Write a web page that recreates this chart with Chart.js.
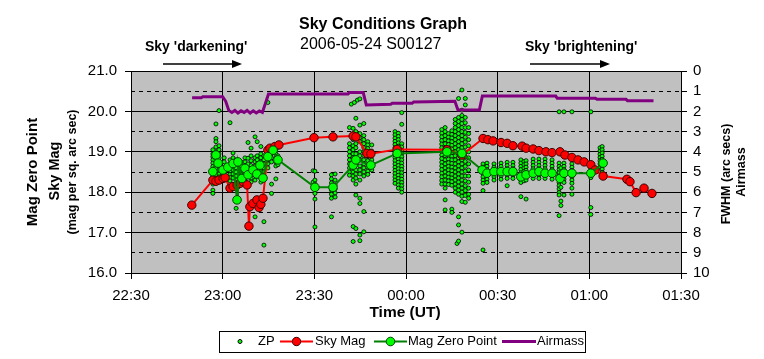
<!DOCTYPE html>
<html><head><meta charset="utf-8">
<script src="https://cdn.jsdelivr.net/npm/chart.js@4/dist/chart.umd.min.js"></script>
<style>html,body{margin:0;padding:0;background:#fff;}#wrap{width:764px;height:359px;position:relative;}</style>
</head><body><div id="wrap"><canvas id="c" width="764" height="359"></canvas></div>
<script>
const FONT = "'Liberation Sans', Arial, sans-serif";

// x values are minutes after 22:30 UT
const xTickLabels = ['22:30','23:00','23:30','00:00','00:30','01:00','01:30'];

const airmassTime  = [20,23,23.5,30,31,32,33,34,35,36,37,38,39,40,41,42,43,44,45,71,71.5,76,77,85,85.5,92,92.5,106,107,114,115,139,139.5,152,152.5,162,162.5,171];
const airmassValue = [1.32,1.32,1.27,1.27,1.5,1.95,2.05,1.95,2.08,1.97,2.05,1.95,2.08,1.97,2.08,1.98,2.05,1.6,1.14,1.14,1.07,1.07,1.68,1.65,1.60,1.60,1.53,1.50,1.93,1.93,1.24,1.24,1.35,1.35,1.40,1.40,1.47,1.47];

const skyMagTime  = [19.9,26.8,27.8,28.8,30.1,30.8,32.4,33.4,34.7,35.7,36.7,38.0,38.6,38.9,39.9,41.2,41.9,42.5,43.2,44.8,45.5,47.1,48.4,59.9,66.1,72.7,73.6,77.2,78.5,87.1,103.4,108.3,115.2,116.8,118.5,121.1,123.1,125.0,128.0,129.3,131.6,133.5,135.8,137.8,140.4,142.0,144.3,146.3,148.3,150.5,151.9,154.5,162.3,163.3,165.3,167.9,170.5];
const skyMagValue = [17.68,18.30,18.27,18.30,18.34,18.36,18.10,18.14,18.18,18.22,18.26,18.18,17.16,17.64,17.72,17.81,17.62,17.70,17.85,19.04,19.09,19.13,19.17,19.35,19.37,19.39,19.37,18.96,18.95,19.06,19.05,18.92,19.33,19.30,19.27,19.23,19.21,19.15,19.14,19.09,19.07,19.03,19.00,18.98,19.00,18.92,18.86,18.80,18.75,18.68,18.55,18.40,18.32,18.26,17.99,18.10,17.97];

const mzpTime  = [26.8,27.8,28.5,30.1,31.7,33.4,34.7,35.0,36.3,37.3,38.3,39.9,41.2,42.2,43.2,44.8,46.5,48.1,60.2,66.1,72.7,73.6,78.5,87.1,103.4,108.3,114.9,116.5,118.8,121.1,123.1,125.0,127.6,129.3,131.6,133.5,135.5,137.8,140.4,141.7,144.3,150.5,154.5];
const mzpValue = [18.51,18.92,18.72,18.55,18.62,18.71,17.81,18.75,18.34,18.59,18.43,18.55,18.45,18.67,18.35,18.88,19.04,18.80,18.12,18.12,18.67,18.80,18.67,18.96,19.00,18.96,18.55,18.47,18.51,18.51,18.51,18.51,18.38,18.43,18.47,18.51,18.47,18.47,18.34,18.47,18.47,18.47,18.72];

// ZP individual measurements: [minute, [values...]]
const zpColumns = [
  [26.8,[19.05,18.95,18.88,18.80,18.72,18.64,18.56,18.48,18.40,18.30,18.20,18.05,17.97]],
  [27.8,[19.69,19.33,19.25,19.12,19.00,18.90,18.82,18.74,18.66,18.58,18.50,18.42,18.35]],
  [28.8,[20.02,19.15,19.05,18.95,18.85,18.75,18.65,18.55,18.45,18.38]],
  [30.5,[18.85,18.75,18.62,18.50,18.40]],
  [32.4,[19.72,18.80,18.70,18.60,18.52,18.44,18.36,18.28]],
  [33.4,[18.97,18.85,18.75,18.65,18.55,18.45,18.35]],
  [34.4,[18.80,18.70,18.60,18.50,18.40,18.30,17.60]],
  [36.0,[18.75,18.65,18.55,18.45,18.35,18.25]],
  [37.3,[18.85,18.75,18.65,18.55,18.45,18.35,18.25]],
  [38.3,[19.23,18.84,18.70,18.60,18.50,18.40]],
  [39.3,[19.09,18.90,18.78,18.66,18.55,18.45,18.35,18.25]],
  [40.6,[19.37,18.85,18.75,18.65,18.55,18.45,18.30,17.39]],
  [41.3,[19.25,18.90,18.80,18.70,18.60,18.50,18.40]],
  [42.5,[19.13,18.95,18.85,18.75,18.65,18.55,18.45,18.35,18.25]],
  [43.5,[18.90,18.80,18.70,18.60,18.50,18.40,17.27,16.69]],
  [44.8,[20.22,19.00,18.90,18.80,18.70,18.60]],
  [46.0,[19.10,18.95,18.85,18.75,18.20,17.97]],
  [47.4,[19.05,18.95,18.85,18.75,18.65,18.33]],
  [48.1,[18.90,18.80,18.68]],
  [59.6,[18.53,18.25]],
  [60.2,[18.52,18.30,18.20,18.10,17.97,17.83,17.14]],
  [65.6,[18.43,18.33,18.23,18.13,18.05,17.95,17.85,17.39]],
  [66.8,[18.45,18.30,18.18,18.08,17.98,17.88]],
  [71.5,[19.60,19.20,19.10,19.00,18.90,18.80,18.70,18.60,18.50,18.42]],
  [72.1,[20.18]],
  [72.7,[19.58,19.45,19.30,19.15,19.05,18.95,18.85,18.75,18.60,18.50,18.40,18.30,17.15,16.78]],
  [73.1,[20.22]],
  [73.6,[19.83,19.50,19.40,19.20,19.10,18.95,18.85,18.70,18.55,18.45,18.35,18.20,17.93,17.10]],
  [74.1,[20.28]],
  [74.9,[20.31,19.66,19.45,19.35,19.25,19.00,18.90,18.80,18.65,18.55,18.45,18.30,17.85,17.72,16.94,16.80]],
  [76.2,[19.70,19.40,19.30,19.20,19.10,19.00,18.90,18.80,18.70,18.60,18.50,18.40,17.52,17.02]],
  [77.5,[19.25,19.17,19.08,18.98,18.88,18.78,18.62,18.52,18.44]],
  [78.8,[19.17,19.02,18.90,18.80,18.70,18.55]],
  [86.4,[19.50,19.42,19.34,19.26,19.18,19.10,19.02,18.94,18.86,18.78,18.70,18.62,18.54,18.46,18.38,18.30,18.22]],
  [87.5,[19.46,19.38,19.30,19.22,19.14,19.06,18.98,18.90,18.82,18.74,18.66,18.58,18.50,18.42,18.34,18.26,18.18,18.10]],
  [88.6,[19.97,19.68,19.20,19.12,19.04,18.96,18.88,18.80,18.72,18.64,18.56,18.48,18.40,18.32,18.24,18.16,18.08,18.00]],
  [101.7,[19.55,19.46,19.37,19.28,19.19,19.10,19.01,18.92,18.83,18.74,18.65,18.56,18.47,18.38,18.29,18.20]],
  [102.8,[19.60,19.50,19.40,19.30,19.20,19.10,19.00,18.90,18.80,18.70,18.60,18.50,18.40,18.30,18.20,18.10,17.81,17.56]],
  [103.9,[19.45,19.36,19.27,19.18,19.09,19.00,18.91,18.82,18.73,18.64,18.55,18.46,18.37,18.28,18.19]],
  [105.0,[19.52,19.43,19.34,19.25,19.16,19.07,18.98,18.89,18.80,18.71,18.62,18.53,18.44,18.35,18.26,18.17,17.58,17.50]],
  [106.1,[19.80,19.70,19.60,19.50,19.40,19.30,19.20,19.10,19.00,18.90,18.80,18.70,18.60,18.50,18.40,18.30,18.20,18.10,18.00]],
  [106.7,[16.73]],
  [107.2,[20.32,19.85,19.75,19.65,19.55,19.45,19.35,19.25,19.15,19.05,18.95,18.85,18.75,18.65,18.55,18.45,18.35,18.25,18.15,18.05,17.95,17.39,17.19,16.79]],
  [108.3,[20.53,20.03,19.90,19.80,19.70,19.60,19.50,19.40,19.30,19.20,19.10,19.00,18.90,18.80,18.70,18.60,18.50,18.40,18.30,18.20,18.10,18.00,17.90,17.77,17.01]],
  [109.4,[20.32,20.16,19.85,19.72,19.60,19.48,19.36,19.24,19.12,19.00,18.88,18.76,18.64,18.52,18.40,18.28,18.16,18.04,17.92,17.75]],
  [110.5,[19.60,19.45,19.30,19.15,19.00,18.85,18.70,18.55,18.40,18.25,18.10,17.95,17.85]],
  [115.2,[18.70,18.62,18.54,18.46,18.38,18.30,18.22,18.04,16.57]],
  [116.5,[18.72,18.64,18.56,18.48,18.40,18.32,18.24]],
  [118.8,[18.70,18.62,18.54,18.46,18.38,18.30]],
  [121.1,[18.72,18.64,18.56,18.48,18.40,18.32]],
  [123.1,[18.74,18.66,18.58,18.50,18.42,18.34,18.16]],
  [125.0,[18.74,18.66,18.58,18.50,18.42,18.34]],
  [127.6,[18.80,18.72,18.64,18.56,18.48,18.40,18.32,18.24,17.89]],
  [128.6,[18.76,18.68,18.60,18.52,18.44,18.36,18.28]],
  [129.3,[18.78,18.70,18.62,18.54,18.46,18.38,18.30,17.83]],
  [131.6,[18.82,18.74,18.66,18.58,18.50,18.42,18.34]],
  [133.5,[18.82,18.74,18.66,18.58,18.50,18.42,18.34]],
  [135.5,[18.82,18.74,18.66,18.58,18.50,18.42,18.34]],
  [137.8,[18.80,18.72,18.64,18.56,18.48,18.40,18.32]],
  [140.1,[19.99,18.72,18.64,18.56,18.48,18.40,18.32,18.24,18.16,18.08,17.99,17.93,17.42]],
  [140.7,[18.60,18.44,18.28,18.12,17.78,17.67]],
  [141.7,[19.99,18.72,18.64,18.56,18.48,18.40,18.32,18.24,17.93]],
  [144.3,[19.99,18.70,18.62,18.54,18.46,18.38,18.30,18.22,18.10,17.95]],
  [150.5,[19.99,18.60,18.52,18.44,18.36,17.62,17.45]],
  [153.5,[19.10,19.02,18.94,18.86,18.78,18.70,18.62]],
  [154.2,[19.13,19.05,18.97,18.89,18.81,18.73,18.65,18.57,18.49,18.41]]
];

const zpPoints = zpColumns.flatMap(([t, vals]) => vals.map(v => ({x: t, y: v})));
const toXY = (ts, vs) => ts.map((t, i) => ({x: t, y: vs[i]}));

const bgPlugin = {
  id: 'plotBg',
  beforeDraw(chart) {
    const {ctx, chartArea: a} = chart;
    ctx.save();
    ctx.fillStyle = '#fff';
    ctx.fillRect(0, 0, chart.width, chart.height);
    ctx.fillStyle = '#C0C0C0';
    ctx.fillRect(a.left, a.top, a.right - a.left, a.bottom - a.top);
    ctx.restore();
  }
};

function arrow(ctx, x1, x2, y) {
  ctx.beginPath();
  ctx.moveTo(x1, y); ctx.lineTo(x2 - 8, y);
  ctx.stroke();
  ctx.beginPath();
  ctx.moveTo(x2, y); ctx.lineTo(x2 - 10, y - 4); ctx.lineTo(x2 - 10, y + 4); ctx.closePath();
  ctx.fill();
}

function vText(ctx, txt, x, y, font) {
  ctx.save();
  ctx.translate(x, y);
  ctx.rotate(-Math.PI / 2);
  ctx.font = font;
  ctx.textAlign = 'center';
  ctx.textBaseline = 'middle';
  ctx.fillText(txt, 0, 0);
  ctx.restore();
}

const textPlugin = {
  id: 'texts',
  afterDraw(chart) {
    const ctx = chart.ctx;
    ctx.save();
    ctx.fillStyle = '#000';
    ctx.strokeStyle = '#000';
    ctx.textBaseline = 'middle';
    ctx.font = 'bold 16px ' + FONT;
    ctx.textAlign = 'left';
    ctx.fillText('Sky Conditions Graph', 299, 25);
    ctx.font = '16px ' + FONT;
    ctx.fillText('2006-05-24 S00127', 300, 45);
    ctx.font = 'bold 14px ' + FONT;
    ctx.fillText("Sky 'darkening'", 145, 47);
    ctx.fillText("Sky 'brightening'", 525, 47);
    ctx.lineWidth = 1.5;
    arrow(ctx, 163, 242, 64);
    arrow(ctx, 530, 610, 64);
    ctx.textAlign = 'center';
    ctx.font = 'bold 15.5px ' + FONT;
    ctx.fillText('Time (UT)', 405, 313);
    vText(ctx, 'Mag Zero Point', 33, 172, 'bold 15px ' + FONT);
    vText(ctx, 'Sky Mag', 55, 171, 'bold 14.5px ' + FONT);
    vText(ctx, '(mag per sq. arc sec)', 73, 172, 'bold 12.5px ' + FONT);
    vText(ctx, 'FWHM (arc secs)', 727, 174, 'bold 12.5px ' + FONT);
    vText(ctx, 'Airmass', 742, 172, 'bold 12.5px ' + FONT);

    // legend
    const ds = chart.data.datasets;
    const ly = 341.5;
    ctx.fillStyle = '#fff';
    ctx.fillRect(219, 331, 367, 21);
    ctx.strokeStyle = '#000';
    ctx.lineWidth = 1;
    ctx.strokeRect(219.5, 331.5, 366, 21);
    const dot = (x, r, fill, stroke) => {
      ctx.beginPath(); ctx.arc(x, ly, r, 0, Math.PI * 2);
      ctx.fillStyle = fill; ctx.fill();
      ctx.lineWidth = 1; ctx.strokeStyle = stroke; ctx.stroke();
    };
    const seg = (x1, x2, color, w) => {
      ctx.beginPath(); ctx.moveTo(x1, ly); ctx.lineTo(x2, ly);
      ctx.strokeStyle = color; ctx.lineWidth = w; ctx.stroke();
    };
    dot(240, ds[0].pointRadius, ds[0].pointBackgroundColor, ds[0].pointBorderColor);
    seg(280, 313, ds[1].borderColor, ds[1].borderWidth);
    dot(296.5, ds[1].pointRadius, ds[1].pointBackgroundColor, ds[1].pointBorderColor);
    seg(374, 407, ds[2].borderColor, ds[2].borderWidth);
    dot(390.5, ds[2].pointRadius, ds[2].pointBackgroundColor, ds[2].pointBorderColor);
    seg(502, 536, ds[3].borderColor, ds[3].borderWidth);
    ctx.fillStyle = '#000';
    ctx.font = '13px ' + FONT;
    ctx.textAlign = 'left';
    ctx.fillText(ds[0].label, 258, ly);
    ctx.fillText(ds[1].label, 315, ly);
    ctx.fillText(ds[2].label, 408, ly);
    ctx.fillText(ds[3].label, 537, ly);
    ctx.restore();
  }
};

const tickFont = {family: FONT, size: 15};

new Chart(document.getElementById('c'), {
  type: 'line',
  data: {
    datasets: [
      {label: 'ZP', data: zpPoints, showLine: false, yAxisID: 'y', order: 4,
       pointRadius: 2, pointBackgroundColor: '#00FF00', pointBorderColor: '#000', pointBorderWidth: 0.8,
       borderColor: '#00FF00', backgroundColor: '#00FF00'},
      {label: 'Sky Mag', data: toXY(skyMagTime, skyMagValue), yAxisID: 'y', order: 3,
       borderColor: '#FF0000', borderWidth: 2, pointRadius: 4.2,
       pointBackgroundColor: '#FF0000', pointBorderColor: '#400000', pointBorderWidth: 1, tension: 0},
      {label: 'Mag Zero Point', data: toXY(mzpTime, mzpValue), yAxisID: 'y', order: 2,
       borderColor: '#008000', borderWidth: 2, pointRadius: 4.3,
       pointBackgroundColor: '#00FF00', pointBorderColor: '#004000', pointBorderWidth: 1, tension: 0},
      {label: 'Airmass', data: toXY(airmassTime, airmassValue), yAxisID: 'y2', order: 1,
       borderColor: '#800080', borderWidth: 3, pointRadius: 0, tension: 0}
    ]
  },
  options: {
    responsive: false, animation: false, devicePixelRatio: 1,
    layout: {padding: {top: 71, left: 0, right: 0, bottom: 0}},
    plugins: {legend: {display: false}, tooltip: {enabled: false}, title: {display: false}},
    scales: {
      x: {type: 'linear', position: 'bottom', min: 0, max: 180,
          ticks: {stepSize: 30, autoSkip: false, maxRotation: 0, padding: 8, color: '#000', font: tickFont,
                  callback: v => xTickLabels[Math.round(v / 30)]},
          grid: {color: '#000', lineWidth: 1, tickLength: 6},
          border: {color: '#000', width: 1},
          afterFit: s => { s.height = 86; }},
      y: {position: 'left', min: 16, max: 21,
          ticks: {stepSize: 1, autoSkip: false, padding: 8, color: '#000', font: tickFont, callback: v => Number(v).toFixed(1)},
          grid: {color: '#000', lineWidth: 1, tickLength: 6},
          border: {color: '#000', width: 1},
          afterFit: s => { s.width = 131; }},
      y2: {position: 'right', min: 0, max: 10, reverse: true,
          ticks: {stepSize: 1, autoSkip: false, padding: 6, color: '#000', font: tickFont, callback: v => String(v)},
          grid: {color: c => (c.tick && Math.round(c.tick.value) % 2 === 1) ? '#000' : 'rgba(0,0,0,0)',
                 tickColor: '#000', lineWidth: 1, tickLength: 6},
          border: {color: '#000', width: 1, dash: [4, 4]},
          afterFit: s => { s.width = 83; }}
    }
  },
  plugins: [bgPlugin, textPlugin]
});
</script>
</body></html>
